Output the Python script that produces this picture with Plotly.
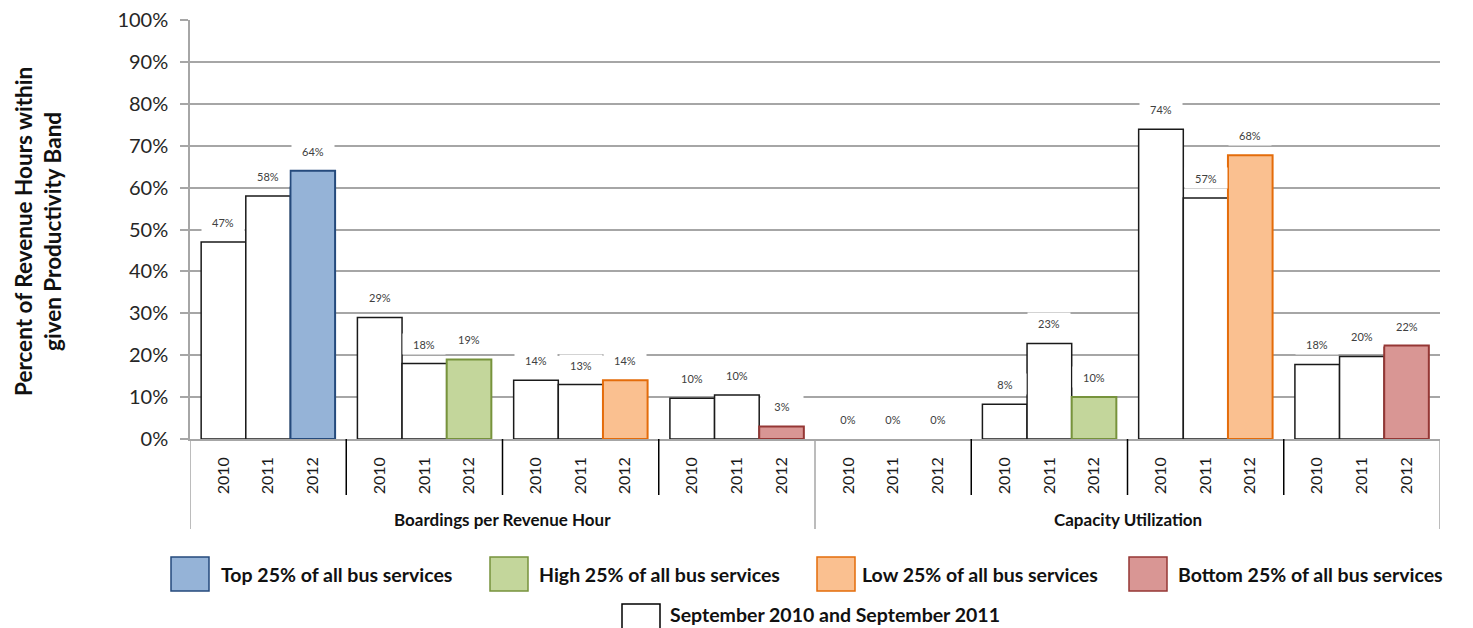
import plotly.graph_objects as go

# ---- data ----
metrics = ["Boardings per Revenue Hour", "Capacity Utilization"]
bands = ["Top 25% of all bus services", "High 25% of all bus services",
         "Low 25% of all bus services", "Bottom 25% of all bus services"]
years = ["2010", "2011", "2012"]
# values (%) per metric, per band, per year
boardings = [[47, 58, 64], [29, 18, 19], [14, 13, 14], [9.7, 10.5, 3]]
capacity = [[0, 0, 0], [8.3, 22.8, 10], [73.9, 57.5, 67.7], [17.8, 19.7, 22.3]]
label_boardings = [["47%", "58%", "64%"], ["29%", "18%", "19%"], ["14%", "13%", "14%"], ["10%", "10%", "3%"]]
label_capacity = [["0%", "0%", "0%"], ["8%", "23%", "10%"], ["74%", "57%", "68%"], ["18%", "20%", "22%"]]
base_label = "September 2010 and September 2011"

band_fill = ["#95b3d7", "#c3d69b", "#fac090", "#d99694"]
band_line = ["#254a7c", "#77933c", "#e46c0a", "#953735"]

G = 3.5      # group pitch in bar units
OFF = 0.75   # first bar centre offset within a group

FONT = "Lato"
fig = go.Figure()

all_vals = [boardings, capacity]
all_labels = [label_boardings, label_capacity]

xs_base, ys_base, lw_base = [], [], []
tickvals, ticktext = [], []
annotations = []
for m in range(2):
    for b in range(4):
        g = m * 4 + b
        for j in range(3):
            x = g * G + OFF + j
            v = all_vals[m][b][j]
            tickvals.append(x)
            ticktext.append(years[j])
            if j < 2:
                xs_base.append(x)
                ys_base.append(v)
                lw_base.append(1.5 if v > 0 else 0)
            annotations.append(dict(
                x=x, y=v, xref="x", yref="y", text=all_labels[m][b][j],
                showarrow=False, yshift=20, yanchor="middle",
                width=40, height=18, bgcolor="white",
                font=dict(family=FONT, size=11, color="#404040")))

fig.add_trace(go.Bar(
    x=xs_base, y=ys_base, width=1, name=base_label,
    marker=dict(color="white", line=dict(color="#1a1a1a", width=lw_base)),
    showlegend=False, hoverinfo="y"))

for b in range(4):
    xs, ys, lws = [], [], []
    for m in range(2):
        g = m * 4 + b
        v = all_vals[m][b][2]
        xs.append(g * G + OFF + 2)
        ys.append(v)
        lws.append(2 if v > 0 else 0)
    fig.add_trace(go.Bar(
        x=xs, y=ys, width=1, name=bands[b],
        marker=dict(color=band_fill[b], line=dict(color=band_line[b], width=lws)),
        showlegend=False, hoverinfo="y"))

# page body has an 8px margin: compensate so the plot sits where the reference has it
BODY = 8
W, H = 1473 - BODY, 628 - BODY
PL, PT, PR, PB = 190, 20, 1440, 439      # plot area in screen pixels
L, T = PL - BODY, PT - BODY
R, B = W - (PR - BODY), H - (PB - BODY)
pw, ph = PR - PL, PB - PT


def px(xs):
    return (xs - PL) / pw


def py(ys):
    return (PB - ys) / ph


shapes = []
# category dividers
for g in range(0, 9):
    major = g in (0, 4, 8)
    shapes.append(dict(type="line", xref="x", yref="paper",
                       x0=g * G, x1=g * G, y0=0, y1=py(529) if major else py(495),
                       line=dict(color="#a6a6a6" if major else "#000000", width=1.5)))
# metric labels
for m in range(2):
    annotations.append(dict(x=m * 4 * G + 2 * G, y=py(519), xref="x", yref="paper",
                            text="<b>" + metrics[m] + "</b>", showarrow=False, yanchor="middle",
                            font=dict(family=FONT, size=17, color="#111111")))

# y-axis title
annotations.append(dict(x=px(38), y=py(232), xref="paper", yref="paper",
                        text="<b>Percent of Revenue Hours within<br>given Productivity Band</b>",
                        textangle=-90, showarrow=False, xanchor="center", yanchor="middle",
                        font=dict(family=FONT, size=22.5, color="#111111")))

# legend (manual)
legend_items = [
    (bands[0], band_fill[0], band_line[0], 171, 557, 219, 574),
    (bands[1], band_fill[1], band_line[1], 490, 557, 537, 574),
    (bands[2], band_fill[2], band_line[2], 817, 557, 860, 574),
    (bands[3], band_fill[3], band_line[3], 1129, 557, 1176, 574),
    (base_label, "white", "#000000", 622, 604, 668, 614),
]
for name, fc, lc, bx, by, tx, ty in legend_items:
    shapes.append(dict(type="rect", xref="paper", yref="paper",
                       x0=px(bx), x1=px(bx + 38), y0=py(by), y1=py(by + 34),
                       fillcolor=fc, line=dict(color=lc, width=1.5)))
    annotations.append(dict(x=px(tx), y=py(ty), xref="paper", yref="paper",
                            text="<b>" + name + "</b>", showarrow=False,
                            xanchor="left", yanchor="middle",
                            font=dict(family=FONT, size=19.5, color="#111111")))

fig.update_layout(
    width=W, height=H,
    margin=dict(l=L, r=R, t=T, b=B, autoexpand=False),
    paper_bgcolor="white", plot_bgcolor="white",
    barmode="overlay",
    showlegend=False,
    xaxis=dict(range=[0, 8 * G], tickmode="array", tickvals=tickvals, ticktext=ticktext,
               tickangle=-90, ticks="", showgrid=False, zeroline=False,
               showline=True, linecolor="#a6a6a6", linewidth=1.5,
               ticklabelstandoff=10, automargin=False,
               tickfont=dict(family=FONT, size=16, color="#1a1a1a")),
    yaxis=dict(range=[0, 100], tickmode="array", tickvals=list(range(0, 101, 10)),
               ticktext=[f"{v}%" for v in range(0, 101, 10)],
               showgrid=True, gridcolor="#a6a6a6", gridwidth=1.5,
               ticks="outside", ticklen=8, tickcolor="#a6a6a6", tickwidth=1.5,
               showline=True, linecolor="#a6a6a6", linewidth=1.5,
               zeroline=False, ticklabelstandoff=8, automargin=False,
               ticklabeloverflow="allow",
               tickfont=dict(family=FONT, size=20, color="#262626")),
    shapes=shapes,
    annotations=annotations,
)

fig.write_html("out.html")
